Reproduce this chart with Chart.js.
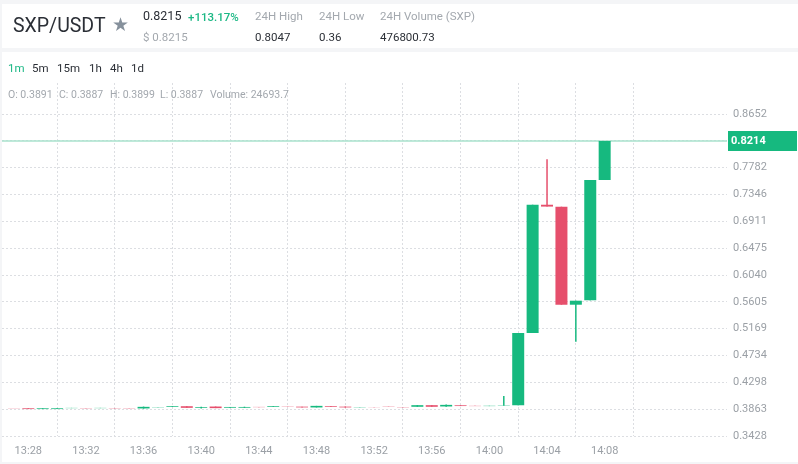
<!DOCTYPE html>
<html>
<head>
<meta charset="utf-8">
<title>SXP/USDT</title>
<script src="https://cdn.jsdelivr.net/npm/chart.js@4/dist/chart.umd.min.js"></script>
<style>
  html, body { margin: 0; padding: 0; width: 798px; height: 464px; overflow: hidden; background: #f4f5f7; font-family: Roboto, sans-serif; }
  .panel { position: absolute; left: 2px; right: 0; background: #fff; }
  #head { top: 4px; height: 44px; }
  #main { top: 52px; height: 410px; }
  canvas { position: absolute; left: 0; top: 0; }
  .t { position: absolute; white-space: nowrap; line-height: 14px; font-size: 12px; }
  .gray { color: #a3a8ae; }
  .dark { color: #2b2f36; }
  .green { color: #1cb885; }
</style>
</head>
<body>
<div class="panel" id="head"></div>
<div class="panel" id="main"></div>
<canvas id="candles" width="798" height="464"></canvas>

<span class="t dark" style="left:13px;top:16px;font-size:19.5px;line-height:20px;">SXP/USDT</span>
<span class="t" style="left:112px;top:15px;font-size:19px;line-height:20px;color:#86919c;">★</span>
<span class="t dark" style="left:143px;top:9px;font-size:12.5px;">0.8215</span>
<span class="t green" style="left:188px;top:10px;font-size:11.5px;font-weight:500;">+113.17%</span>
<span class="t gray" style="left:143px;top:30px;font-size:11.5px;">$ 0.8215</span>
<span class="t gray" style="left:255px;top:9px;font-size:11.5px;">24H High</span>
<span class="t dark" style="left:255px;top:30px;font-size:11.5px;">0.8047</span>
<span class="t gray" style="left:319px;top:9px;font-size:11.5px;">24H Low</span>
<span class="t dark" style="left:319px;top:30px;font-size:11.5px;">0.36</span>
<span class="t gray" style="left:380px;top:9px;font-size:11.5px;">24H Volume (SXP)</span>
<span class="t dark" style="left:380px;top:30px;font-size:11.5px;">476800.73</span>

<span class="t green" style="left:8px;top:61px;font-size:11.5px;">1m</span>
<span class="t dark" style="left:32px;top:61px;font-size:11.5px;">5m</span>
<span class="t dark" style="left:57px;top:61px;font-size:11.5px;">15m</span>
<span class="t dark" style="left:89px;top:61px;font-size:11.5px;">1h</span>
<span class="t dark" style="left:110px;top:61px;font-size:11.5px;">4h</span>
<span class="t dark" style="left:131px;top:61px;font-size:11.5px;">1d</span>

<span class="t gray" style="left:8px;top:88px;font-size:10.5px;">O: 0.3891</span>
<span class="t gray" style="left:59px;top:88px;font-size:10.5px;">C: 0.3887</span>
<span class="t gray" style="left:110px;top:88px;font-size:10.5px;">H: 0.3899</span>
<span class="t gray" style="left:160px;top:88px;font-size:10.5px;">L: 0.3887</span>
<span class="t gray" style="left:210px;top:88px;font-size:10.5px;">Volume: 24693.7</span>

<script>
// minutes counted from 13:28
const minutes = [-1, 0, 1, 2, 3, 4, 5, 6, 7, 8, 9, 10, 11, 12, 13, 14, 15, 16, 17, 18, 19, 20, 21, 22, 23, 24, 25, 26, 27, 28, 29, 30, 31, 32, 33, 34, 35, 36, 37, 38, 39, 40];
const opens = [0.3872, 0.3877, 0.3865, 0.3865, 0.3880, 0.3879, 0.3880, 0.3873, 0.3873, 0.3875, 0.3891, 0.3903, 0.3911, 0.3882, 0.3906, 0.3887, 0.3887, 0.3900, 0.3903, 0.3911, 0.3904, 0.3891, 0.3915, 0.3904, 0.3891, 0.3894, 0.3906, 0.3895, 0.3902, 0.3928, 0.3907, 0.3926, 0.3917, 0.3913, 0.3918, 0.3926, 0.5099, 0.7180, 0.7148, 0.5558, 0.5629, 0.7581];
const closes = [0.3869, 0.3865, 0.3877, 0.3877, 0.3884, 0.3875, 0.3884, 0.3869, 0.3869, 0.3901, 0.3895, 0.3915, 0.3885, 0.3894, 0.3880, 0.3899, 0.3899, 0.3896, 0.3915, 0.3907, 0.3892, 0.3917, 0.3903, 0.3892, 0.3895, 0.3892, 0.3902, 0.3891, 0.3928, 0.3902, 0.3933, 0.3914, 0.3913, 0.3918, 0.3923, 0.5099, 0.7180, 0.7150, 0.5558, 0.5623, 0.7581, 0.8214];
const highs = [0.3872, 0.3877, 0.3877, 0.3877, 0.3884, 0.3879, 0.3884, 0.3873, 0.3873, 0.3905, 0.3895, 0.3915, 0.3911, 0.3903, 0.3906, 0.3899, 0.3903, 0.3900, 0.3915, 0.3911, 0.3904, 0.3917, 0.3915, 0.3907, 0.3895, 0.3894, 0.3906, 0.3895, 0.3928, 0.3928, 0.3938, 0.3926, 0.3917, 0.3918, 0.4077, 0.5099, 0.7180, 0.7917, 0.7148, 0.5623, 0.7581, 0.8214];
const lows = [0.3869, 0.3865, 0.3865, 0.3865, 0.3880, 0.3875, 0.3880, 0.3869, 0.3869, 0.3872, 0.3891, 0.3903, 0.3885, 0.3875, 0.3880, 0.3887, 0.3884, 0.3896, 0.3903, 0.3907, 0.3892, 0.3891, 0.3903, 0.3889, 0.3891, 0.3892, 0.3902, 0.3891, 0.3902, 0.3902, 0.3902, 0.3914, 0.3913, 0.3913, 0.3918, 0.3926, 0.5099, 0.7150, 0.5558, 0.4958, 0.5629, 0.7581];
const yTickLabels = ["0.3428", "0.3863", "0.4298", "0.4734", "0.5169", "0.5605", "0.6040", "0.6475", "0.6911", "0.7346", "0.7782", "0.8217", "0.8652"];
const xTickLabels = ["13:28", "13:32", "13:36", "13:40", "13:44", "13:48", "13:52", "13:56", "14:00", "14:04", "14:08"];
const lastPrice = 0.8214;

const green = "#16b97f";
const red = "#e64f6c";
const gridColor = "#dcdee2";
const tickColor = "#9ba0a6";

const xMin = -1.825;
const xMax = 48.49;
const candleColors = opens.map((open, i) => (closes[i] >= open ? green : red));

// price tag sits on the y axis over the hidden tick
const priceTag = {
  id: "priceTag",
  afterDraw(chart) {
    const { ctx, scales } = chart;
    const y = scales.y.getPixelForValue(lastPrice);
    ctx.save();
    ctx.fillStyle = green;
    ctx.fillRect(728, y - 10, 69, 20);
    ctx.fillStyle = "#fff";
    ctx.font = "bold 11px Roboto";
    ctx.textBaseline = "middle";
    ctx.fillText(lastPrice.toFixed(4), 731, y);
    ctx.restore();
  }
};

const ctx = document.getElementById("candles");

new Chart(ctx, {
  type: "bar",
  plugins: [priceTag],
  data: {
    datasets: [
      {
        type: "line",
        data: [{ x: xMin, y: lastPrice }, { x: xMax, y: lastPrice }],
        borderColor: "#a9e2cd",
        borderWidth: 1.5,
        pointRadius: 0,
        order: 3
      },
      {
        data: minutes.map((m, i) => ({ x: m, y: [lows[i], highs[i]] })),
        backgroundColor: candleColors,
        barThickness: 1.5,
        grouped: false,
        inflateAmount: 0,
        order: 2
      },
      {
        data: minutes.map((m, i) => ({ x: m, y: [opens[i], closes[i]] })),
        backgroundColor: candleColors,
        barThickness: 12,
        grouped: false,
        inflateAmount: 0,
        order: 1
      }
    ]
  },
  options: {
    responsive: false,
    animation: false,
    layout: {
      padding: {
        left: 2,
        right: 0,
        top: 83,
        bottom: 2
      }
    },
    plugins: {
      legend: { display: false },
      tooltip: { enabled: false }
    },
    scales: {
      x: {
        type: "linear",
        min: xMin,
        max: xMax,
        offset: false,
        afterBuildTicks: scale => {
          scale.ticks = xTickLabels.map((label, i) => ({ value: i * 4 }));
        },
        afterFit: scale => {
          scale.height = 26;
        },
        ticks: {
          autoSkip: false,
          maxRotation: 0,
          color: tickColor,
          padding: 9,
          font: { family: "Roboto", size: 11 },
          callback: value => xTickLabels[value / 4]
        },
        grid: {
          color: gridColor,
          drawTicks: false
        },
        border: { display: false, dash: [2, 2] }
      },
      y: {
        position: "right",
        min: 0.3428,
        max: 0.9155,
        afterBuildTicks: scale => {
          scale.ticks = yTickLabels.map(label => ({ value: Number(label) }));
        },
        afterFit: scale => {
          scale.width = 71;
        },
        ticks: {
          autoSkip: false,
          color: tickColor,
          padding: 6,
          font: { family: "Roboto", size: 11 },
          callback: value => value.toFixed(4)
        },
        grid: {
          color: gridColor,
          drawTicks: false
        },
        border: { display: false, dash: [2, 2] }
      }
    }
  }
});
</script>
</body>
</html>
